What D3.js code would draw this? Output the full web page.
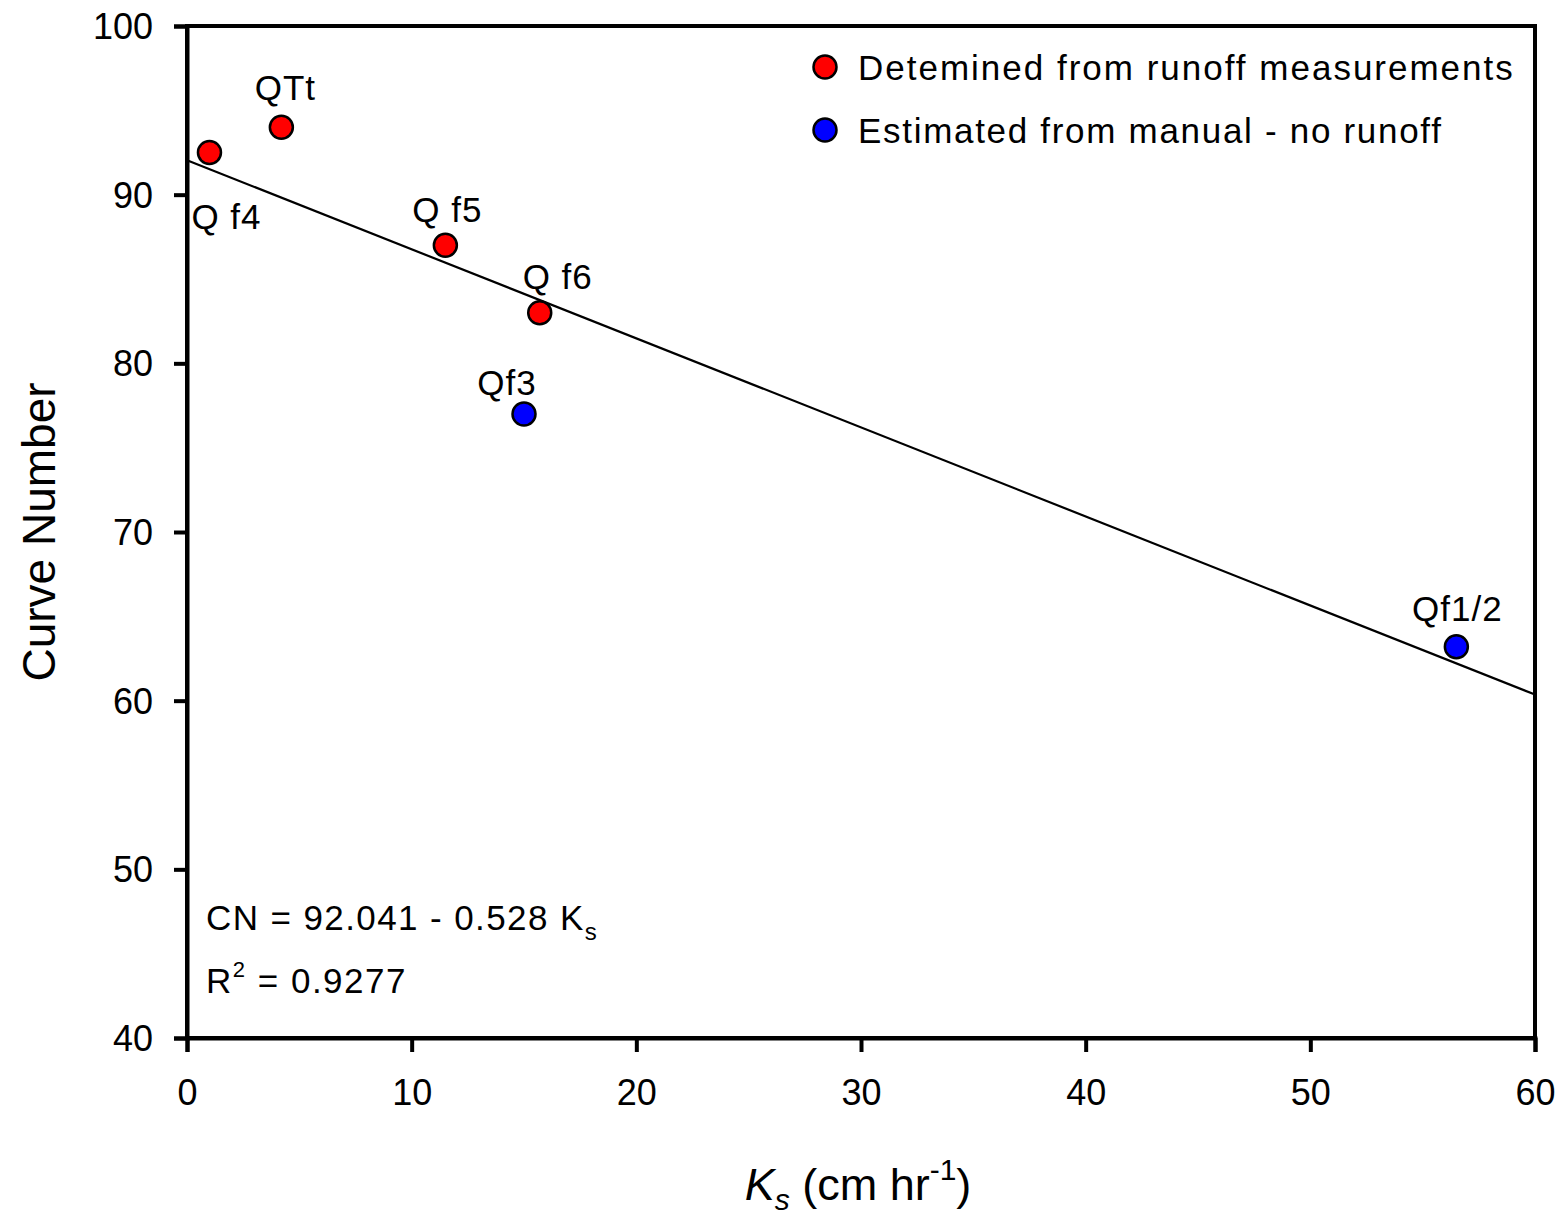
<!DOCTYPE html>
<html>
<head>
<meta charset="utf-8">
<script src="https://cdn.jsdelivr.net/npm/d3@7"></script>
<style>
  body { margin: 0; background: #fff; }
  text { font-family: "Liberation Sans", Arial, sans-serif; fill: #000; }
</style>
</head>
<body>
<svg id="chart" width="1555" height="1219"></svg>
<script>
// data
var labelText = ['Q f4', 'QTt', 'Q f5', 'Q f6', 'Qf3', 'Qf1/2'];
var ks = [1.0, 4.2, 11.5, 15.7, 15.0, 56.5];
var cn = [92.5, 94.0, 87.0, 83.0, 77.0, 63.2];
var group = ['measured', 'measured', 'measured', 'measured', 'manual', 'manual'];
// label offsets relative to point (dx, dy)
var labelDx = [17, 4, 2, 18, -17, 1];
var labelDy = [76, -27, -23, -24, -19, -26];

var xTicks = [0, 10, 20, 30, 40, 50, 60];
var yTicks = [40, 50, 60, 70, 80, 90, 100];
var fitA = 92.041, fitB = -0.528;
var legendNames = ['Detemined from runoff measurements', 'Estimated from manual - no runoff'];
var legendColors = ['#ff0000', '#0000ff'];

drawChart();

function drawChart() {
  var svg = d3.select('#chart');
  var mLeft = 187, mRight = 1535, mTop = 26, mBottom = 1038;

  var x = d3.scaleLinear().domain([0, 60]).range([mLeft, mRight]);
  var y = d3.scaleLinear().domain([40, 100]).range([mBottom, mTop]);
  var color = d3.scaleOrdinal().domain(['measured', 'manual']).range(legendColors);

  // frame
  svg.append('rect')
    .attr('x', mLeft).attr('y', mTop)
    .attr('width', mRight - mLeft).attr('height', mBottom - mTop)
    .attr('fill', 'none').attr('stroke', '#000').attr('stroke-width', 4);

  var xAxis = svg.append('g')
    .attr('transform', 'translate(0,' + mBottom + ')')
    .call(d3.axisBottom(x).tickValues(xTicks).tickSize(14).tickPadding(27));
  var yAxis = svg.append('g')
    .attr('transform', 'translate(' + mLeft + ',0)')
    .call(d3.axisLeft(y).tickValues(yTicks).tickSize(13).tickPadding(21));

  [xAxis, yAxis].forEach(function(a) {
    a.select('.domain').attr('stroke-width', 4);
    a.selectAll('.tick line').attr('stroke-width', 4);
    a.selectAll('.tick text')
      .style('font-size', '36px')
      .style('font-family', '"Liberation Sans", Arial, sans-serif')
      .attr('fill', '#000');
  });
  yAxis.selectAll('.tick text').attr('dy', '0.35em');

  // regression line
  svg.append('line')
    .attr('x1', x(0)).attr('y1', y(fitA))
    .attr('x2', x(60)).attr('y2', y(fitA + fitB * 60))
    .attr('stroke', '#000').attr('stroke-width', 2.2);

  // points
  svg.append('g').selectAll('circle')
    .data(ks)
    .join('circle')
    .attr('cx', function(d) { return x(d); })
    .attr('cy', function(d, i) { return y(cn[i]); })
    .attr('r', 11.5)
    .attr('fill', function(d, i) { return color(group[i]); })
    .attr('stroke', '#000').attr('stroke-width', 2.5);

  svg.append('g').selectAll('text')
    .data(labelText)
    .join('text')
    .attr('x', function(d, i) { return x(ks[i]) + labelDx[i]; })
    .attr('y', function(d, i) { return y(cn[i]) + labelDy[i]; })
    .attr('text-anchor', 'middle')
    .style('font-size', '35px')
    .style('letter-spacing', '1px')
    .text(function(d) { return d; });

  // legend
  var leg = svg.append('g').selectAll('g')
    .data(legendNames)
    .join('g')
    .attr('transform', function(d, i) { return 'translate(825,' + (67 + i * 63) + ')'; });
  leg.append('circle').attr('r', 11.5)
    .attr('fill', function(d, i) { return legendColors[i]; })
    .attr('stroke', '#000').attr('stroke-width', 2.5);
  leg.append('text')
    .attr('x', 33).attr('y', 13)
    .style('font-size', '35px')
    .style('letter-spacing', function(d, i) { return i === 0 ? '2px' : '1.7px'; })
    .text(function(d) { return d; });

  // equation
  var eq = svg.append('text').attr('x', 206).attr('y', 930)
    .style('font-size', '35px').style('letter-spacing', '1.4px');
  eq.append('tspan').text('CN = 92.041 - 0.528 K');
  eq.append('tspan').attr('dy', 10).style('font-size', '24px').text('s');
  var r2 = svg.append('text').attr('x', 206).attr('y', 993)
    .style('font-size', '35px').style('letter-spacing', '1.5px');
  r2.append('tspan').text('R');
  r2.append('tspan').attr('dy', -16).style('font-size', '22px').text('2');
  r2.append('tspan').attr('dy', 16).text(' = 0.9277');

  // axis titles
  svg.append('text')
    .attr('transform', 'translate(55,' + ((mTop + mBottom) / 2) + ') rotate(-90)')
    .attr('text-anchor', 'middle')
    .style('font-size', '46px')
    .text('Curve Number');

  var xt = svg.append('text')
    .attr('x', 858).attr('y', 1200)
    .attr('text-anchor', 'middle')
    .style('font-size', '45px');
  xt.append('tspan').style('font-style', 'italic').text('K');
  xt.append('tspan').attr('dy', 10).style('font-size', '30px').style('font-style', 'italic').text('s');
  xt.append('tspan').attr('dy', -10).text(' (cm hr');
  xt.append('tspan').attr('dy', -20).style('font-size', '30px').text('-1');
  xt.append('tspan').attr('dy', 20).text(')');
}
</script>
</body>
</html>
